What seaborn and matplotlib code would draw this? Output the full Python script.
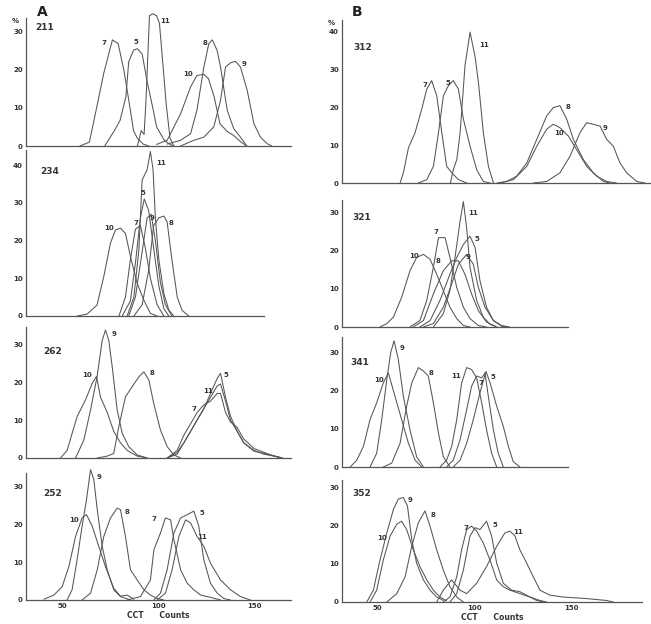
import numpy as np
import pandas as pd
import seaborn as sns
import matplotlib.pyplot as plt

# curves: label -> (CCT counts, % of cells)
p211 = {
    "7": ([59, 64, 68, 71.5, 76, 79, 82, 84.5, 87, 89, 92, 95],
          [0, 1, 10.5, 19, 27.7, 26.7, 19.7, 12, 4, 2, 0.5, 0]),
    "5": ([72, 77, 80, 83, 84.5, 87, 89, 91.5, 94, 97, 99, 103, 106, 108],
          [0, 4, 6.7, 12.8, 22, 25, 25.4, 24, 17, 10, 5, 1.5, 0.4, 0]),
    "11": ([89, 91, 92.5, 93.5, 95.3, 97, 99, 100.5, 102, 104, 106, 108],
           [0, 4, 3, 12, 34, 34.5, 34, 32, 23, 11, 2, 0]),
    "10": ([99, 104.5, 111.5, 116.7, 120, 123.6, 126, 129, 132, 136, 139, 143, 146],
           [0.4, 1.5, 8.4, 15.4, 18.4, 18.7, 17.6, 12.8, 5.8, 3.7, 2.8, 1, 0]),
    "8": ([104.5, 111.5, 116.7, 120, 123.6, 126.2, 128, 130.5, 132.3, 135.8, 139.2, 142.7, 146],
          [0.5, 1.5, 3.2, 9.3, 20.5, 26.7, 27.7, 25, 20.6, 9.3, 4.5, 2.3, 0]),
    "9": ([111.5, 118.4, 123.6, 128.8, 132.3, 134.9, 137.5, 140.1, 142.7, 146.2, 149.7, 153.1, 156.6, 159],
          [0, 1.5, 2.3, 5, 11.9, 20.6, 21.7, 22.1, 20.6, 14.5, 5.8, 2.3, 0.6, 0]),
}
p234 = {
    "10": ([57.6, 62.8, 68, 71.5, 75, 77.6, 80.2, 82.8, 85.4, 88.9, 92.4, 95.8, 99.3],
           [0, 0.5, 2.9, 10.4, 19.3, 22.8, 23.3, 21.9, 15.8, 8.7, 4.2, 0.7, 0]),
    "7": ([79.4, 82.8, 85.4, 88, 90.6, 93.2, 95.8, 99.3, 102.8],
          [0, 5, 15, 23, 24, 18, 10, 3, 0]),
    "11": ([83.7, 87.2, 89.8, 91.5, 94.1, 95.8, 97.2, 98.4, 100.2, 102.8, 105.4, 108],
           [0, 5, 17.5, 36, 38.8, 43.6, 38.8, 26, 15, 6, 1.6, 0]),
    "5": ([81.1, 85.4, 88, 90.6, 92.6, 94.9, 97.5, 100.2, 102.8, 105.4],
          [0, 4, 14, 26, 31, 28, 18, 8, 2, 0]),
    "9": ([84.5, 88, 91.5, 94.1, 96.2, 98.4, 101, 103.6, 107],
          [0, 5, 17, 26, 27, 20, 9, 3, 0]),
    "8": ([87.2, 91.5, 94.9, 97.5, 100.2, 102.8, 104.5, 107, 109.8, 112.3, 115.8],
          [0, 3, 12, 24, 26, 26.5, 25, 15, 5, 1.5, 0]),
}
p262 = {
    "10": ([49, 52.4, 57.6, 62, 65.4, 67.7, 69.8, 73.3, 76.7, 80.2, 83.7, 88.9, 94.1],
           [0, 2, 10.9, 15.3, 19.6, 21.5, 16, 12, 7, 4, 2, 0.5, 0]),
    "9": ([56.8, 61.1, 64.6, 68, 70.7, 72.4, 74.1, 75.9, 78.5, 81.1, 84.5, 88.9, 94.1],
          [0, 4.7, 12.6, 21.4, 31, 33.7, 31, 24, 12.6, 6.5, 3, 0.8, 0]),
    "8": ([68, 73.3, 76.7, 79.3, 82.8, 86.3, 89.8, 92.4, 95, 97.5, 101, 104.5, 108, 111.5],
          [0, 0.5, 1.2, 8.2, 16.1, 18.8, 21.4, 22.7, 20.5, 14.4, 7.4, 3, 0.8, 0]),
    "7": ([104.5, 109.7, 113.2, 116.7, 120.1, 123.6, 127.1, 130.6, 132.3, 134.9, 137.5, 141, 144.4, 149.7, 154.9, 160.1, 164.4],
          [0, 2, 6, 9, 12, 14, 15, 17, 17, 12, 9.5, 8, 5, 2.5, 1.5, 0.5, 0]),
    "11": ([104.5, 109.7, 113.2, 116.7, 120.1, 123.6, 127.1, 130.6, 132.3, 134.9, 137.5, 141, 144.4, 149.7, 154.9, 160.1, 164.4],
           [0, 1.5, 4, 7, 10, 13, 16, 19, 19.5, 15, 10, 7, 4, 2, 1, 0.5, 0]),
    "5": ([104.5, 109.7, 113.2, 116.7, 120.1, 123.6, 127.1, 130.6, 132.3, 134.9, 137.5, 141, 144.4, 149.7, 154.9, 160.1, 164.4],
          [0, 1, 4, 7, 10, 13, 17, 21, 22.3, 16, 11, 7, 4, 1.8, 1.2, 0.6, 0]),
}
p252 = {
    "9": ([52.4, 55, 57.6, 60.2, 62.5, 64.6, 66.3, 68.1, 70.7, 73.3, 76.7, 80.2, 85.4],
          [0, 2.7, 10.6, 19.5, 26.5, 34.5, 31.9, 23.9, 14.2, 8, 2.7, 0.9, 0]),
    "10": ([40.3, 45.5, 49.8, 53.3, 56.8, 60.2, 62.5, 65.5, 68.9, 72.4, 76.7, 80.2, 83.7, 87.2],
           [0.2, 1.3, 3.5, 8.8, 16.8, 21.7, 22.6, 19.5, 14.2, 8.8, 3.1, 1, 1.3, 0.2]),
    "8": ([60.2, 64.6, 68.1, 71.5, 75, 78.5, 80.2, 82.8, 85.4, 88.9, 92.4, 95.8, 99.3, 102.8],
          [0, 1.8, 8, 16.8, 21.7, 24.3, 23.9, 16.8, 8, 5.3, 2.7, 1.3, 0.4, 0]),
    "7": ([83.7, 90.6, 95.8, 97.6, 101, 103.6, 106.3, 108, 111.5, 115, 118.4, 121.9, 127.1, 132.3],
          [0, 0.9, 5.3, 13.3, 17.7, 21.7, 21.2, 16, 8, 4.4, 2.7, 1.3, 0.7, 0]),
    "5": ([97.6, 101, 104.5, 108, 111.5, 115, 118.4, 121, 123.6, 127.1, 130.6, 134, 137.5],
          [0, 1.8, 8, 17.7, 21.7, 22.6, 23.5, 19.5, 10.6, 4.4, 1.8, 0.4, 0]),
    "11": ([99.3, 103.6, 107.1, 110.6, 114.1, 116.7, 120.1, 123.6, 127.1, 132.3, 137.5, 142.7, 147.9],
           [0, 1.8, 8, 16.8, 21.2, 20.4, 16.8, 14.2, 9.7, 5.3, 2.7, 0.9, 0]),
}
p312 = {
    "7": ([61.8, 63.5, 66.1, 69.5, 72.9, 75.5, 78, 80.6, 83.2, 85.7, 88.3, 91.7, 96],
          [0, 2.7, 9.3, 13.3, 19.5, 24.8, 27, 23, 13.3, 4.4, 2.7, 0.9, 0]),
    "5": ([71.2, 75.5, 78.9, 81.5, 84, 86.6, 89.1, 91.7, 94.3, 97.7, 101.1, 104.5, 108],
          [0, 0.9, 4.4, 13.3, 23, 25.7, 27, 24.8, 16.8, 9.7, 3.5, 0.4, 0]),
    "11": ([87.6, 89.1, 90.9, 92.6, 95.1, 97.7, 100.3, 102, 104.5, 107.1, 109.7],
           [0, 3.5, 6.2, 13.3, 31, 39.8, 33.2, 26.5, 13.3, 4.4, 0]),
    "8": ([111.4, 116.5, 121.6, 126.8, 131.9, 137, 140.4, 143.8, 147.3, 150.7, 155.8, 160.9, 166.1, 169.5],
          [0, 0.4, 1.8, 5.3, 11.5, 17.7, 19.9, 20.4, 16.8, 11.5, 6.2, 2.7, 0.4, 0]),
    "10": ([113.1, 120, 126.8, 131.9, 137, 140.4, 143.8, 148.1, 152.4, 157.5, 162.6, 167.8, 172.9],
           [0, 0.9, 4.4, 9.7, 14.2, 15.5, 14.6, 12.4, 8.8, 4.4, 1.8, 0.4, 0]),
    "9": ([130.2, 137, 143.8, 149, 154.1, 157.5, 160.9, 164.4, 167.8, 171.2, 174.6, 178, 183.2, 187.4],
          [0, 0.4, 2.7, 7.1, 13.3, 15.9, 15.5, 15, 11.5, 9.7, 5.3, 2.7, 0.4, 0]),
}
p321 = {
    "10": ([51.5, 55, 58.4, 62.6, 66.9, 70.3, 73.8, 77.2, 80.6, 84, 87.4, 90.9, 94.3, 97.7],
           [0, 0.9, 2.6, 7.8, 14.8, 18.3, 19.1, 17.8, 13.9, 9.6, 5.2, 2.2, 0.4, 0]),
    "7": ([66.9, 72, 75.5, 78.9, 81.5, 84.9, 87.4, 90.9, 94.3, 97.7, 102, 106.2],
          [0, 1.7, 7, 15.7, 23.5, 23.5, 18.3, 10.4, 5.2, 2.2, 0.4, 0]),
    "11": ([78.9, 84, 87.4, 90, 92.6, 94.3, 96, 97.7, 101.1, 104.5, 108, 111.4],
           [0, 3.5, 9.6, 18.3, 27.8, 33, 26, 15.7, 7, 2.6, 0.7, 0]),
    "5": ([72, 77.2, 82.3, 87.4, 90.9, 94.3, 97.7, 100.3, 102.8, 106.2, 109.7, 113.9, 116.5],
          [0, 1.7, 7, 13.9, 18.3, 21.7, 23.9, 20.9, 12.2, 5.2, 1.7, 0.2, 0]),
    "8": ([68.6, 73.8, 78.9, 84, 88.3, 91.7, 95.1, 98.5, 102, 106.2, 111.4],
          [0, 1.7, 8.7, 14.8, 17.4, 17.4, 13.9, 8.7, 4.3, 1.3, 0]),
    "9": ([73.8, 78.9, 84, 88.3, 91.7, 96, 99.4, 102, 105.4, 109.7, 113.9, 118],
          [0, 0.9, 5.2, 11.3, 16.5, 19.1, 16.5, 10.4, 5.2, 1.7, 0.4, 0]),
}
p341 = {
    "9": ([46.4, 49.8, 52.4, 55, 57, 58.7, 60.9, 63.5, 66.9, 70.3, 73.8],
          [0, 3.6, 12.4, 22.9, 29.9, 33, 28.2, 18.5, 9.7, 2.7, 0]),
    "10": ([36.2, 39.6, 43, 46.4, 49.8, 53.2, 55.8, 59.2, 62.6, 66.1, 69.5, 72.9],
           [0, 1.8, 5.4, 12.4, 16.8, 22, 24.6, 18.5, 12.4, 6.2, 1.8, 0]),
    "8": ([53.2, 57.5, 61.8, 65.2, 67.8, 71.2, 73.8, 76.3, 78.9, 81.5, 84, 87.4],
          [0, 1, 6.2, 15.9, 22, 26, 25.1, 23.8, 16.8, 8.9, 2.7, 0]),
    "11": ([82.3, 85.7, 88.3, 90.9, 93.4, 96, 98.5, 101.1, 103.7, 106.2, 108.8, 111.4],
           [0, 1.8, 5.4, 12.4, 22, 26, 25.5, 23.3, 16.8, 9.7, 3.6, 0]),
    "7": ([85.7, 89.1, 92.6, 96, 98.5, 101.1, 103.7, 105.4, 107.1, 109.7, 112.2, 114.8],
          [0, 1.8, 7.1, 15, 21.1, 23.8, 23.3, 24.6, 18.5, 9.7, 3.6, 0]),
    "5": ([89.1, 92.6, 96, 99.4, 102.8, 105.9, 108, 111.4, 114.8, 117.4, 119.9, 123.3],
          [0, 1.8, 6.2, 12.4, 19.4, 25, 22, 15.9, 10.6, 5.4, 1.4, 0]),
}
p352 = {
    "9": ([44.7, 48.1, 51.5, 55, 58.4, 60.9, 63.5, 65.6, 67.8, 70.3, 73.8, 77.2, 80.6, 84],
          [0, 3.1, 11, 18.1, 24.3, 27, 27.4, 25.2, 16.4, 10.2, 5.8, 3.1, 1.3, 0.4]),
    "10": ([46.4, 49.8, 53.2, 56.7, 60.1, 62.6, 65.2, 68.6, 72, 75.5, 78.9, 82.3, 85.7],
           [0, 3.1, 11, 17.3, 20.4, 21.2, 19, 13.7, 9.3, 5.8, 3.1, 1.3, 0.3]),
    "8": ([55, 60.1, 64.4, 67.8, 71.2, 74.6, 77.2, 80.6, 84, 87.4, 90.9, 94.3],
          [0, 2.2, 6.6, 14.6, 20.8, 23.9, 19.9, 13.7, 8.4, 4, 1.3, 0]),
    "7": ([84, 87.4, 90.9, 93.4, 96, 98.5, 101.1, 104.5, 108, 111.4, 114.8, 118.2, 123.3, 128.5, 133.6, 137],
          [0, 1.3, 6.6, 13.7, 19, 19.9, 18.6, 15.5, 11, 5.8, 4, 3.1, 2.2, 1.3, 0.4, 0]),
    "5": ([87.4, 90.9, 94.3, 97.7, 100.3, 102.8, 106.2, 108.8, 111.4, 114.8, 119.1, 123.3, 128.5, 131.9, 135.3],
          [0, 2.2, 8.4, 17.3, 19.5, 19, 21.2, 17.3, 10.2, 4.9, 3.1, 2.7, 1.3, 0.4, 0]),
    "11": ([80.6, 84, 88.3, 92.6, 96, 101.1, 106.2, 111.4, 115.6, 118.2, 120.8, 123.3, 126.8, 130.2, 133.6, 138.7, 145.6, 157.5, 167.8, 171.2],
           [0, 3.1, 5.8, 3.1, 2.2, 4.9, 9.3, 14.6, 18.1, 18.6, 17.3, 13.7, 10.2, 6.6, 3.1, 1.8, 1.3, 0.9, 0.4, 0]),
}

# label offsets in points from each curve's peak
offs = {
    "211": {"7": (-6, -2), "5": (-1, 5), "11": (9, -5), "10": (-11, 0), "8": (-5, -2), "9": (6, -2)},
    "234": {"10": (-8, 0), "7": (-3, 2), "11": (8, -8), "5": (-1, 4), "9": (1, -3), "8": (5, -5)},
    "262": {"10": (-7, 1), "9": (6, -3), "8": (6, -1), "7": (-17, -11), "11": (-9, -5), "5": (4, -1)},
    "252": {"9": (6, -5), "10": (-9, -4), "8": (7, -3), "7": (-8, -1), "5": (6, -1), "11": (12, -12)},
    "312": {"7": (-5, -3), "5": (-4, -2), "11": (10, -9), "8": (6, -1), "10": (4, -6), "9": (13, -4)},
    "321": {"10": (-7, -1), "7": (-2, 4), "11": (7, -8), "5": (5, -2), "8": (-10, 0), "9": (1, -2)},
    "341": {"9": (6, -5), "10": (-7, -5), "8": (9, -4), "11": (-8, -6), "7": (-3, -7), "5": (5, -4)},
    "352": {"9": (5, -2), "10": (-14, -12), "8": (6, -3), "7": (-4, -1), "5": (6, -3), "11": (6, -1)},
}

W, H = 651, 624
LINE = "#555555"
INK = "#333333"

# panel: data, (left, top, right, bottom) in px, xlim, ymax, yticks
panels = [
    ("211", p211, (26, 18, 291, 146), (31, 169), 33.4, [0, 10, 20, 30]),
    ("234", p234, (26, 150, 264, 316), (31, 155), 44, [0, 10, 20, 30, 40]),
    ("262", p262, (26, 327, 291, 458), (31, 169), 34.5, [0, 10, 20, 30]),
    ("252", p252, (26, 473, 291, 600), (31, 169), 33.6, [0, 10, 20, 30]),
    ("312", p312, (342, 20, 650, 183), (32, 190), 43, [0, 10, 20, 30, 40]),
    ("321", p321, (342, 200, 568, 327), (32, 148), 33.4, [0, 10, 20, 30]),
    ("341", p341, (342, 337, 568, 467), (32, 148), 34, [0, 10, 20, 30]),
    ("352", p352, (342, 480, 642, 602), (32, 186), 32, [0, 10, 20, 30]),
]
id_pos = {"211": (45, 28), "234": (50, 172), "262": (53, 352), "252": (53, 493),
          "312": (363, 48), "321": (362, 218), "341": (360, 362), "352": (362, 493)}

sns.set_style("white")
plt.rcParams["font.family"] = ["DejaVu Sans"]
fig = plt.figure(figsize=(W / 100, H / 100), dpi=100)

for name, curves, (l, t, r, b), xlim, ymax, yt in panels:
    ax = fig.add_axes([l / W, 1 - b / H, (r - l) / W, (b - t) / H])
    rows = []
    for lab, (xs, ys) in curves.items():
        for x, y in zip(xs, ys):
            rows.append((lab, x, y))
    df = pd.DataFrame(rows, columns=["curve", "count", "pct"])
    sns.lineplot(data=df, x="count", y="pct", units="curve", estimator=None,
                 color=LINE, linewidth=0.75, ax=ax, legend=False)
    for ln in ax.lines:
        ln.set_clip_on(False)
    ax.set_xlim(*xlim)
    ax.set_ylim(0, ymax)
    ax.set_xlabel("")
    ax.set_ylabel("")
    for s in ["top", "right"]:
        ax.spines[s].set_visible(False)
    for s in ["left", "bottom"]:
        ax.spines[s].set_color("#555555")
        ax.spines[s].set_linewidth(0.9)
    ax.set_yticks(yt)
    ax.set_yticklabels([str(v) for v in yt], fontsize=5, color=INK, fontweight="bold")
    ax.tick_params(axis="y", length=2.5, width=0.7, direction="inout", pad=1, color="#555555")
    if name in ("252", "352"):
        ax.set_xticks([50, 100, 150])
        ax.set_xticklabels(["50", "100", "150"], fontsize=5, color=INK, fontweight="bold")
        ax.tick_params(axis="x", length=3, width=0.7, direction="inout", pad=1, color="#555555")
        ax.set_xlabel("CCT      Counts", fontsize=5.5, color=INK, fontweight="bold", labelpad=1)
    else:
        ax.set_xticks([])
    ax.patch.set_alpha(0)
    for lab, (xs, ys) in curves.items():
        i = int(np.argmax(ys))
        ax.annotate(lab, (xs[i], ys[i]), xytext=offs[name][lab], textcoords="offset points",
                    fontsize=5, fontweight="bold", color=INK, ha="center", va="center",
                    annotation_clip=False)
    px, py = id_pos[name]
    fig.text(px / W, 1 - py / H, name, fontsize=6.5, fontweight="bold", color=INK,
             ha="center", va="center")

fig.text(42 / W, 1 - 12 / H, "A", fontsize=10, fontweight="bold", color="#222222", ha="center", va="center")
fig.text(357 / W, 1 - 12 / H, "B", fontsize=10, fontweight="bold", color="#222222", ha="center", va="center")
fig.text(15 / W, 1 - 21 / H, "%", fontsize=5, fontweight="bold", color=INK, ha="center", va="center")
fig.text(331 / W, 1 - 23 / H, "%", fontsize=5, fontweight="bold", color=INK, ha="center", va="center")

fig.savefig("out.png", dpi=100, facecolor="white")
